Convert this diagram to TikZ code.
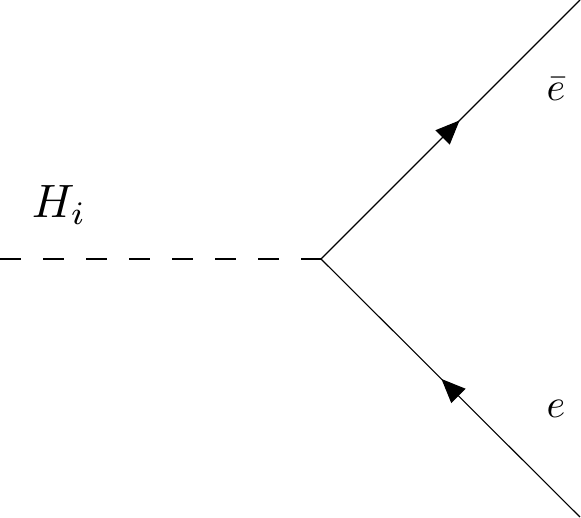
\documentclass[tikz,border=0pt]{standalone}
\usetikzlibrary{arrows.meta,decorations.markings}
\begin{document}
\begin{tikzpicture}[x=1pt,y=-1pt,
  fermion/.style={line width=1.1pt,postaction={decorate},
    decoration={markings,mark=at position 0.535 with {\arrow{Triangle[length=24pt,width=20pt]}}}},
  scalar/.style={line width=1.1pt,dash pattern=on 21pt off 22pt},
  lbl/.style={inner sep=0pt,scale=4}]
\useasboundingbox (0,0) rectangle (581,517);
\coordinate (h) at (0,259);
\coordinate (v) at (321,259);
\coordinate (eb) at (580,0);
\coordinate (e) at (580,517);
\draw[scalar] (h) -- (v);
\draw[fermion] (v) -- (eb);
\draw[fermion] (e) -- (v);
\node[lbl,scale=1.17,anchor=base west] (hl) at (31,217) {$H_i$};
\node[lbl,anchor=base] (ebl) at (556,100) {$\bar e$};
\node[lbl,anchor=base] (el) at (556,417) {$e$};
\end{tikzpicture}
\end{document}
